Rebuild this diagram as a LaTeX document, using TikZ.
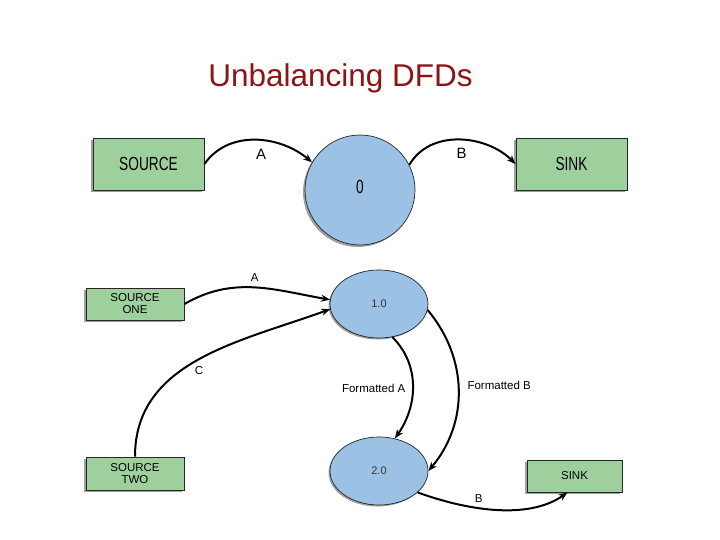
\documentclass[tikz,border=0pt]{standalone}
\usepackage{fontspec}
\setmainfont{Liberation Sans}
\usetikzlibrary{shapes.geometric,arrows.meta,shadows}
\definecolor{titlered}{RGB}{140,20,20}
\definecolor{entgreen}{RGB}{158,208,158}
\definecolor{procblue}{RGB}{155,194,228}
\newcommand{\narrowtxt}[1]{\scalebox{0.72}[1]{#1}}
\tikzset{
  entity/.style={rectangle, draw=black!85, fill=entgreen, line width=0.9pt, inner sep=0pt,
    align=center, drop shadow={shadow xshift=-1.8pt, shadow yshift=-1.8pt, opacity=0.75}},
  bigproc/.style={circle, draw=black!85, fill=procblue, line width=0.7pt, inner sep=0pt,
    minimum size=110pt, drop shadow={shadow xshift=-2pt, shadow yshift=-2pt, opacity=0.75}},
  proc/.style={ellipse, draw=black!85, fill=procblue, line width=0.7pt, inner sep=0pt,
    minimum width=98pt, minimum height=68pt, text=black!80, font=\fontsize{11}{13}\selectfont,
    drop shadow={shadow xshift=-1.5pt, shadow yshift=-1.5pt, opacity=0.75}},
  flow/.style={-{Stealth[length=9pt,width=7pt]}, line width=2pt},
  biglbl/.style={font=\fontsize{15}{17}\selectfont},
  smalllbl/.style={font=\fontsize{11.5}{13}\selectfont},
}
\begin{document}
\begin{tikzpicture}[x=1pt,y=1pt]
  \useasboundingbox (0,0) rectangle (720,-540);
  \node[anchor=base, text=titlered, font=\fontsize{31.5}{36}\selectfont] (title) at (340.5,-87) {Unbalancing DFDs};

  % context level
  \node[entity, minimum width=111pt, minimum height=52pt, font=\fontsize{19}{22}\selectfont] (src) at (148.5,-164) {\narrowtxt{SOURCE}};
  \node[bigproc, font=\fontsize{19}{22}\selectfont, text depth=6pt] (p0) at (360,-190) {\narrowtxt{0}};
  \node[entity, minimum width=111pt, minimum height=52pt, font=\fontsize{19}{22}\selectfont] (sinkA) at (571.5,-164) {\narrowtxt{SINK}};
  \draw[flow] (src.east) to[out=55, in=140] node[pos=0.55, below=4pt, biglbl] {A} (p0.150);
  \draw[flow] (p0.27) to[out=60, in=135] node[pos=0.52, below=4pt, biglbl] {B} (sinkA.west);

  % level 1
  \node[entity, minimum width=98pt, minimum height=32pt, font=\fontsize{11.5}{12}\selectfont] (srcOne) at (135,-304) {SOURCE\\ONE};
  \node[entity, minimum width=98pt, minimum height=33pt, font=\fontsize{11.5}{12}\selectfont] (srcTwo) at (135,-473.5) {SOURCE\\TWO};
  \node[proc] (p1) at (379,-304) {1.0};
  \node[proc] (p2) at (379,-471) {2.0};
  \node[entity, minimum width=95pt, minimum height=32pt, font=\fontsize{11.5}{12}\selectfont] (sinkB) at (574.5,-476) {SINK};
  \draw[flow] (srcOne.east) to[out=30, in=170] node[pos=0.5, above=2pt, smalllbl] {A} (p1.175);
  \draw[flow] (srcTwo.north) to[out=90, in=200] node[pos=0.5, below=3pt, smalllbl] {C} (p1.186);
  \draw[flow] (p1.292) to[out=-45, in=55] node[pos=0.52, left=3pt, smalllbl] {Formatted A} (p2.64);
  \draw[flow] (p1.353) to[out=-50, in=50] node[pos=0.47, right=5pt, smalllbl] {Formatted B} (p2.0);
  \draw[flow] (p2.331) to[out=-20, in=215, looseness=0.85] node[pos=0.4, above=1pt, smalllbl] {B} ([xshift=-7pt]sinkB.south);
\end{tikzpicture}
\end{document}
